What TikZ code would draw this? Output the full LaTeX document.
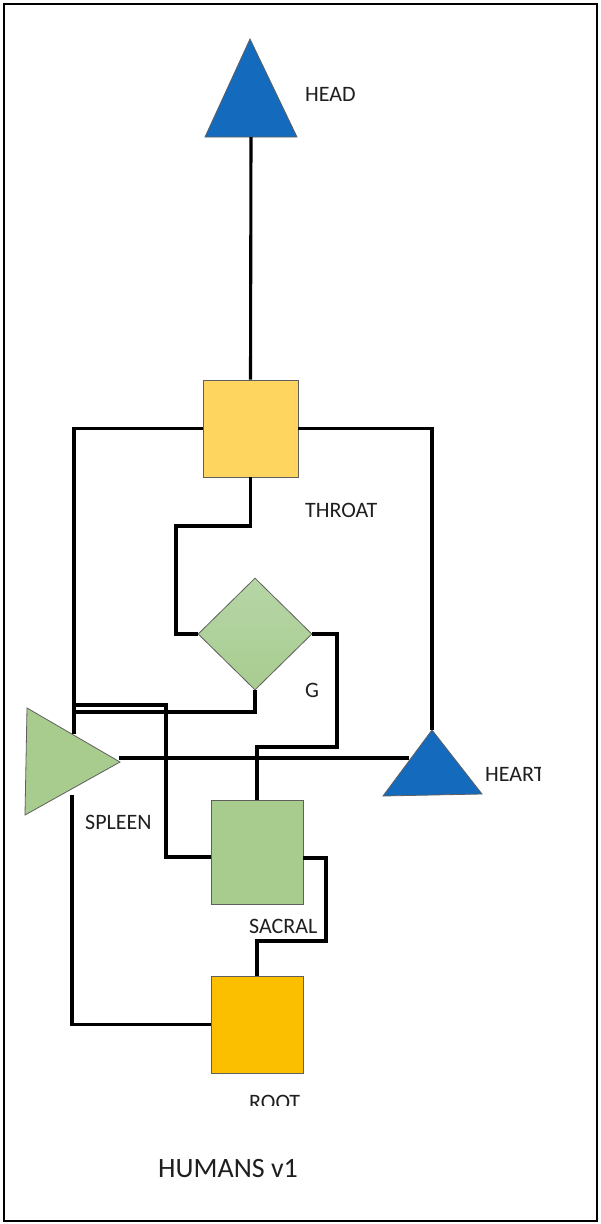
\documentclass[tikz,border=0pt]{standalone}
\usepackage{fontspec}
\setmainfont{Carlito}
\usetikzlibrary{shapes.geometric}
\definecolor{triblue}{RGB}{20,106,189}
\definecolor{throaty}{RGB}{253,213,95}
\definecolor{chgreen}{RGB}{168,204,142}
\definecolor{rooty}{RGB}{252,191,0}
\definecolor{gtop}{RGB}{182,214,166}
\definecolor{gbot}{RGB}{168,204,144}
\definecolor{edgegray}{RGB}{95,95,95}
\begin{document}
\begin{tikzpicture}[x=1pt,y=-1pt,
  conn/.style={draw=black, line width=3.1pt},
  box/.style={draw=edgegray, line width=0.8pt, inner sep=0pt, rectangle},
  tri/.style={draw=edgegray, line width=0.8pt, line join=miter},
  lbl/.style={font=\fontsize{22}{24}\selectfont, anchor=base west, inner sep=0pt, text=black!88}
]
\useasboundingbox (0,0) rectangle (600,1224);
\fill[white] (0,0) rectangle (600,1224);
\draw[line width=2.5pt] (4,4) rectangle (597,1221);

% shapes
\coordinate (headT) at (250,39);
\coordinate (headL) at (205,137);
\coordinate (headR) at (297,137);
\coordinate (headB) at (251,137);
\draw[tri, fill=triblue] (headT) -- (headL) -- (headR) -- cycle;

\node[box, fill=throaty, minimum width=95pt, minimum height=97pt] (throat) at (250.5,428.5) {};
\node[diamond, draw=edgegray, line width=0.8pt, top color=gtop, bottom color=gbot,
      minimum width=114pt, minimum height=112pt, inner sep=0pt] (g) at (255,634) {};

\coordinate (spT) at (27,708);
\coordinate (spR) at (120,762);
\coordinate (spL) at (25,815);
\draw[tri, fill=chgreen] (spT) -- (spR) -- (spL) -- cycle;
\coordinate (spA) at (74,734);
\coordinate (spB) at (72,795);
\coordinate (spE) at (119,758);

\coordinate (heartT) at (432,730);
\coordinate (heartL) at (383,796);
\coordinate (heartR) at (482,794);
\draw[tri, fill=triblue] (heartT) -- (heartL) -- (heartR) -- cycle;
\coordinate (heartW) at (409,758);

\node[box, fill=chgreen, minimum width=92pt, minimum height=104pt] (sacral) at (257,852) {};
\node[box, fill=rooty, minimum width=92pt, minimum height=97pt] (root) at (257,1024.5) {};
\coordinate (sacW) at (211,857);
\coordinate (sacE) at (303,858);

% routing points
\coordinate (tg) at (176,526);
\coordinate (gs) at (74,712);
\coordinate (s1) at (166,705);
\coordinate (s2) at (74,705);
\coordinate (sg) at (337,747);
\coordinate (sr) at (326,941);

% connectors
\draw[conn] (headB) -- (throat.north);
\draw[conn] (throat.west) -| (spA);
\draw[conn] (throat.east) -| (heartT);
\draw[conn] (throat.south) |- (tg) |- (g.west);
\draw[conn] (g.south) |- (gs) -- (spA);
\draw[conn] (sacW) -| (s1) -- (s2);
\draw[conn] (sacral.north) |- (sg) |- (g.east);
\draw[conn] (sacE) -| (sr) -| (root.north);
\draw[conn] (spB) |- (root.west);
\draw[conn] (spE) -- (heartW);

% labels
\node[lbl] (lhead) at (305,101) {HEAD};
\node[lbl] (lthroat) at (305,517) {THROAT};
\node[lbl] (lg) at (305,697) {G};
\begin{scope}
  \clip (470,740) rectangle (540,800);
  \node[lbl] (lheart) at (485,781) {HEART};
\end{scope}
\node[lbl] (lspleen) at (85,829) {SPLEEN};
\node[lbl] (lsacral) at (249,933) {SACRAL};
\begin{scope}
  \clip (240,1080) rectangle (320,1105);
  \node[lbl] (lroot) at (249,1109) {ROOT};
\end{scope}
\node[lbl, font=\fontsize{28}{32}\selectfont] (title) at (158,1177) {HUMANS v1};
\end{tikzpicture}
\end{document}
